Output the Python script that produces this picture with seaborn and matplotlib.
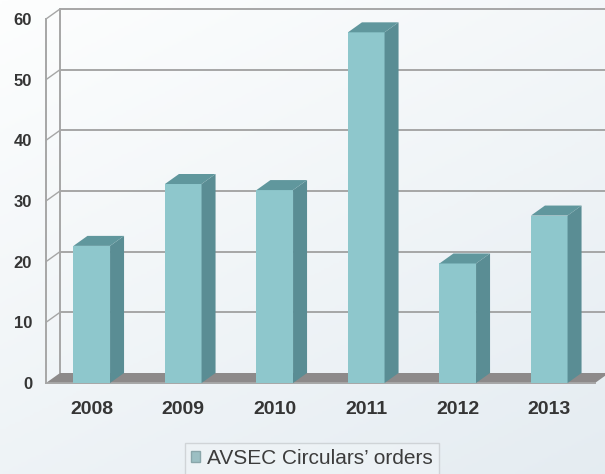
import numpy as np
import pandas as pd
import matplotlib.pyplot as plt
from matplotlib.patches import Polygon, Patch
import seaborn as sns

years = ['2008', '2009', '2010', '2011', '2012', '2013']
orders = [22.6, 32.8, 31.8, 57.8, 19.7, 27.6]
series_name = 'AVSEC Circulars\u2019 orders'
yticks = [0, 10, 20, 30, 40, 50, 60]

df = pd.DataFrame({'year': years, 'orders': orders})

sns.set_style('white')
plt.rcParams['font.family'] = ['Liberation Sans', 'DejaVu Sans']

front_col = '#8ec7cc'
side_col = '#5a8d94'
top_col = '#60979d'
floor_col = '#8d8a8a'
grid_col = '#a6a6a6'
text_col = '#353535'

W, H = 605, 474
fig = plt.figure(figsize=(W / 100, H / 100), dpi=100)

# soft gradient background
bg = fig.add_axes([0, 0, 1, 1], zorder=-10)
gy, gx = np.mgrid[0:1:200j, 0:1:200j]
grad = np.clip(0.55 * gy + 0.35 * gx, 0, 1)
bg.imshow(grad, cmap=sns.blend_palette(['#fdfefe', '#e2eaf0'], as_cmap=True),
          aspect='auto', extent=[0, 1, 0, 1], vmin=0, vmax=1)
bg.axis('off')

# axes laid out so the front plane sits like the reference
x0_px, y0_px = 46, 383
px_x = 91.5           # pixels per category
px_y = 6.067          # pixels per unit
xmax = -0.5 + (W - x0_px) / px_x
ymax = (y0_px - 4) / px_y
ax = fig.add_axes([x0_px / W, (H - y0_px) / H, (W - x0_px) / W, (y0_px - 4) / H])
ax.set_facecolor('none')

dx = 14 / px_x      # depth offset, categories
dy = 10 / px_y      # depth offset, value units

# back wall grid and side edges
for v in yticks[1:]:
    ax.plot([-0.5 + dx, xmax], [v + dy, v + dy], color=grid_col, lw=1.4, zorder=1,
            clip_on=False)
    ax.plot([-0.5, -0.5 + dx], [v, v + dy], color=grid_col, lw=1.0, zorder=1,
            clip_on=False)
ax.plot([-0.5 + dx, -0.5 + dx], [dy, 60 + dy], color=grid_col, lw=1.4, zorder=1)

# floor
floor = Polygon([(-0.5, 0), (5.5, 0), (5.5 + dx, dy), (-0.5 + dx, dy)],
                closed=True, facecolor=floor_col, edgecolor='none', zorder=2,
                clip_on=False)
ax.add_patch(floor)

sns.barplot(data=df, x='year', y='orders', color=front_col, width=0.4,
            saturation=1, ax=ax, zorder=3, linewidth=0)

for p in ax.patches:
    if p is floor:
        continue
    xa = p.get_x()
    xb = xa + p.get_width()
    h = p.get_height()
    ax.add_patch(Polygon([(xb, 0), (xb + dx, dy), (xb + dx, h + dy), (xb, h)],
                         closed=True, facecolor=side_col, edgecolor='none', zorder=3))
    ax.add_patch(Polygon([(xa, h), (xb, h), (xb + dx, h + dy), (xa + dx, h + dy)],
                         closed=True, facecolor=top_col, edgecolor='none', zorder=3))

ax.set_xlim(-0.5, xmax)
ax.set_ylim(0, ymax)
ax.set_xlabel('')
ax.set_ylabel('')

sns.despine(ax=ax, top=True, right=True)
ax.spines['left'].set_bounds(0, 60)
ax.spines['bottom'].set_bounds(-0.5, 5.5)
for s in ['left', 'bottom']:
    ax.spines[s].set_color(grid_col)
    ax.spines[s].set_linewidth(1.4)

ax.set_yticks(yticks)
ax.set_yticklabels([str(t) for t in yticks])
ax.tick_params(axis='y', length=5, width=1, color=grid_col, pad=5,
               labelsize=12, labelcolor=text_col)
for lab in ax.get_yticklabels():
    lab.set_fontweight('bold')

ax.set_xticks(range(len(years)))
ax.set_xticklabels(years)
ax.set_xticks([k + 0.5 for k in range(len(years) - 1)], minor=True)
ax.tick_params(axis='x', which='major', length=0, pad=13, labelsize=14,
               labelcolor=text_col)
ax.tick_params(axis='x', which='minor', length=4, width=1, color=grid_col)
for lab in ax.get_xticklabels():
    lab.set_fontweight('bold')

handle = Patch(facecolor='#9cbfc3', edgecolor='#8aa6aa', label=series_name)
leg = fig.legend(handles=[handle], loc='upper center',
                 bbox_to_anchor=(312 / W, 1 - 443 / H), frameon=True,
                 fancybox=False, fontsize=15, handlelength=0.45, handleheight=0.45,
                 handletextpad=0.35, borderpad=0.3, borderaxespad=0)
leg.get_frame().set_edgecolor('#c9cdd0')
leg.get_frame().set_facecolor('#eef3f6')
leg.get_frame().set_linewidth(1)
for t in leg.get_texts():
    t.set_color('#3c3c3c')

fig.savefig('out.png', dpi=100)
